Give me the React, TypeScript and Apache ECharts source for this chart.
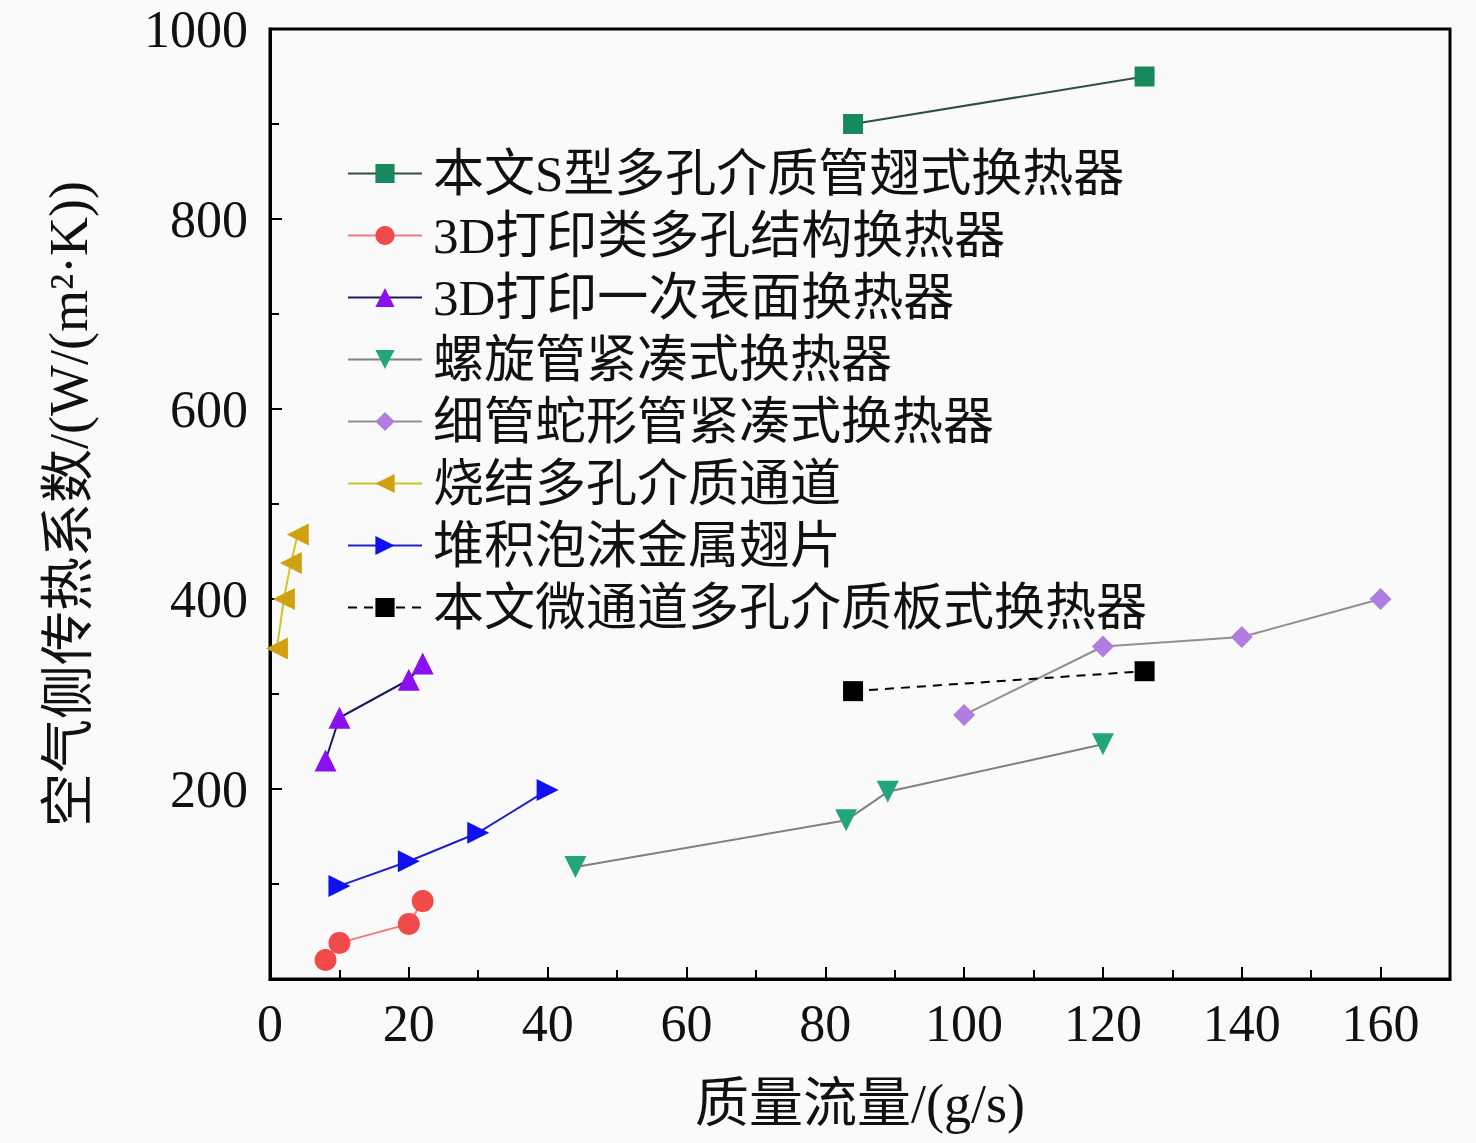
import { useEffect, useRef } from 'react';
import * as echarts from 'echarts';

const seriesNames = [
  '本文S型多孔介质管翅式换热器',
  '3D打印类多孔结构换热器',
  '3D打印一次表面换热器',
  '螺旋管紧凑式换热器',
  '细管蛇形管紧凑式换热器',
  '烧结多孔介质通道',
  '堆积泡沫金属翅片',
  '本文微通道多孔介质板式换热器',
];

const sTypeTube = [[84, 900], [126, 950]];
const printedPorous = [[8, 20], [10, 38], [20, 58], [22, 82]];
const printedSurface = [[8, 230], [10, 275], [20, 315], [22, 332]];
const helicalTube = [[44, 118], [83, 167], [89, 197], [120, 247]];
const serpentineTube = [[100, 278], [120, 350], [140, 360], [160, 400]];
const sinteredChannel = [[1, 348], [2, 400], [3, 438], [4, 468]];
const foamFin = [[10, 98], [20, 124], [30, 154], [40, 199]];
const microChannel = [[84, 303], [126, 324]];

const fontFamily = '"Liberation Serif", "Noto Sans CJK SC", serif';

export default function App() {
  const chartRef = useRef<HTMLDivElement>(null);

  useEffect(() => {
    if (!chartRef.current) return;
    const chart = echarts.init(chartRef.current, undefined, { renderer: 'svg' });

    const mk = (
      i: number,
      data: number[][],
      symbol: string,
      markerColor: string,
      lineColor: string,
      rotate = 0,
      dashed = false,
      size = 22,
    ) => ({
      name: seriesNames[i],
      type: 'line',
      data,
      symbol,
      symbolSize: size,
      symbolRotate: rotate,
      itemStyle: { color: markerColor },
      lineStyle: { color: lineColor, width: 2, type: dashed ? [9, 7] : 'solid' },
      z: 3,
    });

    chart.setOption({
      animation: false,
      backgroundColor: '#fafafa',
      textStyle: { fontFamily },
      grid: { left: 270, right: 26, top: 29, bottom: 164, show: true, borderColor: '#000', borderWidth: 3 },
      legend: {
        orient: 'vertical',
        left: 342,
        top: 143,
        itemWidth: 74,
        itemHeight: 24,
        itemGap: 11,
        textStyle: { fontSize: 51, color: '#111', fontFamily, padding: [0, 0, 0, 6] },
        data: seriesNames,
      },
      xAxis: {
        type: 'value',
        min: 0,
        max: 170,
        interval: 20,
        name: '质量流量/(g/s)',
        nameLocation: 'middle',
        nameGap: 98,
        nameTextStyle: { fontSize: 54, color: '#111', fontFamily },
        axisLine: { show: true, lineStyle: { color: '#000', width: 3 } },
        axisTick: { show: true, inside: true, length: 12, lineStyle: { color: '#000', width: 2 } },
        minorTick: { show: true, splitNumber: 2, length: 9, lineStyle: { color: '#000', width: 2 } },
        axisLabel: { fontSize: 52, color: '#111', margin: 18, fontFamily, showMaxLabel: false },
        splitLine: { show: false },
      },
      yAxis: {
        type: 'value',
        min: 0,
        max: 1000,
        interval: 200,
        name: '空气侧传热系数/(W/(m²·K))',
        nameLocation: 'middle',
        nameGap: 174,
        nameTextStyle: { fontSize: 54, color: '#111', fontFamily },
        axisLine: { show: true, lineStyle: { color: '#000', width: 3 } },
        axisTick: { show: true, inside: true, length: 12, lineStyle: { color: '#000', width: 2 } },
        minorTick: { show: true, splitNumber: 2, length: 9, lineStyle: { color: '#000', width: 2 } },
        axisLabel: {
          fontSize: 52,
          color: '#111',
          margin: 22,
          fontFamily,
          formatter: (v: number) => (v === 0 ? '' : String(v)),
        },
        splitLine: { show: false },
      },
      series: [
        mk(0, sTypeTube, 'rect', '#168a5c', '#2e4f45', 0, false, 20),
        mk(1, printedPorous, 'circle', '#f04a4a', '#f07a80'),
        mk(2, printedSurface, 'triangle', '#8a10f0', '#1c1c5a'),
        mk(3, helicalTube, 'triangle', '#22a57c', '#808080', 180),
        mk(4, serpentineTube, 'diamond', '#b07ee0', '#909090'),
        mk(5, sinteredChannel, 'triangle', '#d0a010', '#c8c828', 90),
        mk(6, foamFin, 'triangle', '#1010f0', '#2020d0', -90),
        mk(7, microChannel, 'rect', '#000000', '#000000', 0, true, 20),
      ],
    });

    return () => {
      chart.dispose();
    };
  }, []);

  return (
    <div
      ref={chartRef}
      style={{ position: 'fixed', left: 0, top: 0, width: 1476, height: 1143 }}
    />
  );
}
